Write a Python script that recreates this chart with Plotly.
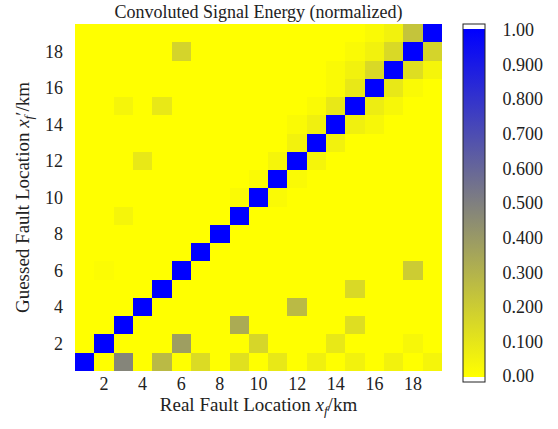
import plotly.graph_objects as go

# Fault locations (km) along both axes
real_km = list(range(1, 20))
guessed_km = list(range(1, 20))

# Normalized convoluted signal energy; one row per guessed location (1..19 km),
# columns follow the real fault location (1..19 km)
energy = [
    [1.00, 0.00, 0.48, 0.00, 0.27, 0.00, 0.14, 0.00, 0.12, 0.00, 0.09, 0.00, 0.06, 0.00, 0.05, 0.00, 0.05, 0.00, 0.04],
    [0.00, 1.00, 0.00, 0.00, 0.00, 0.38, 0.00, 0.00, 0.00, 0.16, 0.00, 0.00, 0.00, 0.09, 0.00, 0.00, 0.00, 0.03, 0.00],
    [0.00, 0.00, 1.00, 0.00, 0.00, 0.00, 0.00, 0.00, 0.33, 0.00, 0.00, 0.00, 0.00, 0.00, 0.13, 0.00, 0.00, 0.00, 0.00],
    [0.00, 0.00, 0.00, 1.00, 0.00, 0.00, 0.00, 0.00, 0.00, 0.00, 0.00, 0.27, 0.00, 0.00, 0.00, 0.00, 0.00, 0.00, 0.00],
    [0.00, 0.00, 0.00, 0.00, 1.00, 0.00, 0.00, 0.00, 0.00, 0.00, 0.00, 0.00, 0.00, 0.00, 0.15, 0.00, 0.00, 0.00, 0.00],
    [0.00, 0.01, 0.00, 0.00, 0.00, 1.00, 0.00, 0.00, 0.00, 0.00, 0.00, 0.00, 0.00, 0.00, 0.00, 0.00, 0.00, 0.20, 0.00],
    [0.00, 0.00, 0.00, 0.00, 0.00, 0.00, 1.00, 0.00, 0.00, 0.00, 0.00, 0.00, 0.00, 0.00, 0.00, 0.00, 0.00, 0.00, 0.00],
    [0.00, 0.00, 0.00, 0.00, 0.00, 0.00, 0.00, 1.00, 0.00, 0.00, 0.00, 0.00, 0.00, 0.00, 0.00, 0.00, 0.00, 0.00, 0.00],
    [0.00, 0.00, 0.04, 0.00, 0.00, 0.00, 0.00, 0.00, 1.00, 0.00, 0.00, 0.00, 0.00, 0.00, 0.00, 0.00, 0.00, 0.00, 0.00],
    [0.00, 0.00, 0.00, 0.00, 0.00, 0.00, 0.00, 0.00, 0.02, 1.00, 0.02, 0.00, 0.00, 0.00, 0.00, 0.00, 0.00, 0.00, 0.00],
    [0.00, 0.00, 0.00, 0.00, 0.00, 0.00, 0.00, 0.00, 0.00, 0.02, 1.00, 0.02, 0.00, 0.00, 0.00, 0.00, 0.00, 0.00, 0.00],
    [0.00, 0.00, 0.00, 0.09, 0.00, 0.00, 0.00, 0.00, 0.00, 0.00, 0.04, 1.00, 0.04, 0.00, 0.00, 0.00, 0.00, 0.00, 0.00],
    [0.00, 0.00, 0.00, 0.00, 0.00, 0.00, 0.00, 0.00, 0.00, 0.00, 0.00, 0.05, 1.00, 0.05, 0.00, 0.00, 0.00, 0.00, 0.00],
    [0.00, 0.00, 0.00, 0.00, 0.00, 0.00, 0.00, 0.00, 0.00, 0.00, 0.00, 0.02, 0.06, 1.00, 0.06, 0.03, 0.00, 0.00, 0.00],
    [0.00, 0.00, 0.04, 0.00, 0.09, 0.00, 0.00, 0.00, 0.00, 0.00, 0.00, 0.00, 0.02, 0.09, 1.00, 0.07, 0.03, 0.00, 0.00],
    [0.00, 0.00, 0.00, 0.00, 0.00, 0.00, 0.00, 0.00, 0.00, 0.00, 0.00, 0.00, 0.00, 0.02, 0.09, 1.00, 0.09, 0.02, 0.00],
    [0.00, 0.00, 0.00, 0.00, 0.00, 0.00, 0.00, 0.00, 0.00, 0.00, 0.00, 0.00, 0.00, 0.02, 0.05, 0.15, 1.00, 0.13, 0.04],
    [0.00, 0.00, 0.00, 0.00, 0.00, 0.17, 0.00, 0.00, 0.00, 0.00, 0.00, 0.00, 0.00, 0.00, 0.02, 0.05, 0.15, 1.00, 0.17],
    [0.00, 0.00, 0.00, 0.00, 0.00, 0.00, 0.00, 0.00, 0.00, 0.00, 0.00, 0.00, 0.00, 0.00, 0.00, 0.02, 0.05, 0.23, 1.00],
]

axis_ticks = [2, 4, 6, 8, 10, 12, 14, 16, 18]
cbar_ticks = [0.0, 0.1, 0.2, 0.3, 0.4, 0.5, 0.6, 0.7, 0.8, 0.9, 1.0]
cbar_labels = ["0.00", "0.100", "0.200", "0.300", "0.400", "0.500",
               "0.600", "0.700", "0.800", "0.900", "1.00"]

FONT = "Liberation Serif, Times New Roman, serif"
INK = "#222222"

# Small white margin at both ends of the colour bar
pad = 0.017
zmin, zmax = -pad, 1 + pad
edge = pad / (zmax - zmin)
tiny = 0.002
colorscale = [
    [0.0, "#ffffff"], [edge - tiny, "#ffffff"],
    [edge - tiny, "#ffff00"], [edge, "#ffff00"],
    [1 - edge, "#0000ff"], [1 - edge + tiny, "#0000ff"],
    [1 - edge + tiny, "#ffffff"], [1.0, "#ffffff"],
]

fig = go.Figure(
    go.Heatmap(
        x=real_km,
        y=guessed_km,
        z=energy,
        zmin=zmin,
        zmax=zmax,
        colorscale=colorscale,
        colorbar=dict(
            tickvals=cbar_ticks,
            ticktext=cbar_labels,
            ticks="outside",
            ticklen=14,
            tickcolor="rgba(0,0,0,0)",
            outlinecolor=INK,
            outlinewidth=1,
            thickness=22,
            thicknessmode="pixels",
            len=358,
            lenmode="pixels",
            x=1.057,
            xanchor="left",
            y=0.484,
            yanchor="middle",
            ypad=0,
            xpad=0,
            tickfont=dict(family=FONT, size=18, color=INK),
        ),
    )
)

fig.update_layout(
    width=558,
    height=429,
    margin=dict(l=75, r=116, t=24, b=58),
    paper_bgcolor="white",
    plot_bgcolor="white",
    font=dict(family=FONT, size=18, color=INK),
    title=dict(
        text="Convoluted Signal Energy (normalized)",
        x=(75 + 442) / 2 / 558,
        xanchor="center",
        y=1 - 12 / 429,
        yref="container",
        yanchor="middle",
        font=dict(family=FONT, size=18, color=INK),
    ),
    xaxis=dict(
        range=[0.5, 19.5],
        tickvals=axis_ticks,
        ticks="",
        showgrid=False,
        zeroline=False,
        showline=False,
        tickfont=dict(family=FONT, size=18, color=INK),
        title=dict(text="Real Fault Location <i>x</i><sub><i>f</i></sub>/km",
                   standoff=4, font=dict(family=FONT, size=19, color=INK)),
    ),
    yaxis=dict(
        range=[0.5, 19.5],
        tickvals=axis_ticks,
        ticks="",
        ticklabelstandoff=11,
        showgrid=False,
        zeroline=False,
        showline=False,
        tickfont=dict(family=FONT, size=18, color=INK),
        title=dict(text="Guessed Fault Location <i>x</i><sub><i>f</i></sub>′/km",
                   standoff=10, font=dict(family=FONT, size=19, color=INK)),
    ),
)

fig.write_html("out.html")
